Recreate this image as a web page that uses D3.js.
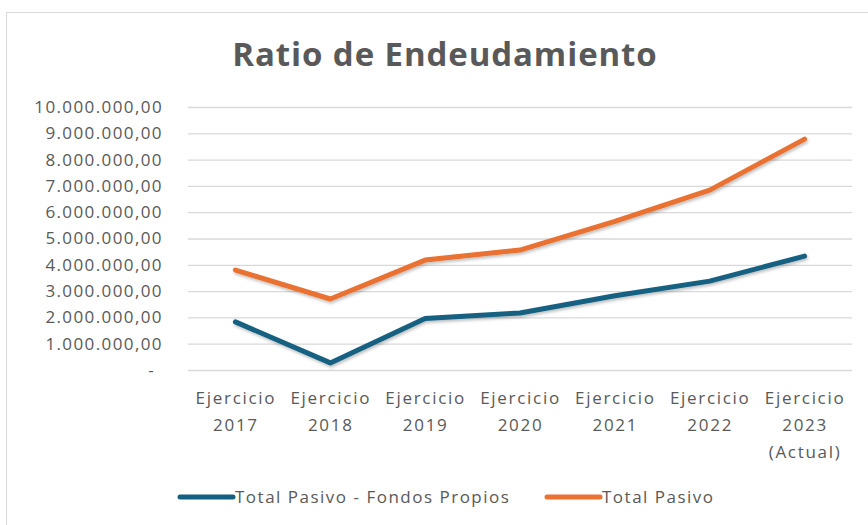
<!DOCTYPE html>
<html>
<head>
<meta charset="utf-8">
<script src="https://cdn.jsdelivr.net/npm/d3@7"></script>
<style>
  body { margin: 0; background: #fff; }
  text { font-family: "Open Sans", sans-serif; fill: #595959; }
</style>
</head>
<body>
<div id="chart"></div>
<script>
// data
var categories = ["2017", "2018", "2019", "2020", "2021", "2022", "2023"];
var catLines = [
  ["Ejercicio", "2017"],
  ["Ejercicio", "2018"],
  ["Ejercicio", "2019"],
  ["Ejercicio", "2020"],
  ["Ejercicio", "2021"],
  ["Ejercicio", "2022"],
  ["Ejercicio", "2023", "(Actual)"]
];
var pasivoMenosFP = [1830000, 270000, 1960000, 2170000, 2820000, 3380000, 4330000];
var totalPasivo = [3800000, 2700000, 4180000, 4560000, 5650000, 6840000, 8780000];
var yTicks = [0, 1000000, 2000000, 3000000, 4000000, 5000000, 6000000, 7000000, 8000000, 9000000, 10000000];
var seriesNames = ["Total Pasivo - Fondos Propios", "Total Pasivo"];
var seriesColors = ["#156082", "#E97132"];

var width = 868;
var height = 525;

var plotLeft = 188;
var plotRight = 852;
var plotTop = 107;
var plotBottom = 370;

var svg = d3
  .select("#chart")
  .append("svg")
  .attr("width", width)
  .attr("height", height);

// soft shadow under the lines
var defs = svg.append("defs");
defs.append("filter")
  .attr("id", "shadow")
  .attr("x", "-10%").attr("y", "-10%")
  .attr("width", "120%").attr("height", "130%")
  .append("feDropShadow")
  .attr("dx", 1).attr("dy", 2)
  .attr("stdDeviation", 1.5)
  .attr("flood-color", "#000")
  .attr("flood-opacity", 0.25);

// chart border
svg.append("rect")
  .attr("x", 6.5)
  .attr("y", 12.5)
  .attr("width", width)
  .attr("height", height)
  .attr("fill", "none")
  .attr("stroke", "#d9d9d9");

// title
svg.append("text")
  .attr("x", 445)
  .attr("y", 66)
  .attr("text-anchor", "middle")
  .style("font-size", "33px")
  .style("font-weight", "bold")
  .style("letter-spacing", "0.9px")
  .text("Ratio de Endeudamiento");

var xScale = d3.scalePoint()
  .domain(categories)
  .range([plotLeft, plotRight])
  .padding(0.5);

var yScale = d3.scaleLinear()
  .domain([0, 10000000])
  .range([plotBottom, plotTop]);

var es = d3.formatLocale({ decimal: ",", thousands: ".", grouping: [3], currency: ["", ""] });
var fmt = es.format(",.2f");

var yAxis = d3.axisLeft(yScale)
  .tickValues(yTicks)
  .tickSize(-(plotRight - plotLeft))
  .tickPadding(25)
  .tickFormat(function(d) { return d === 0 ? "-" : fmt(d); });

var gy = svg.append("g")
  .attr("class", "yAxis")
  .attr("transform", "translate(" + plotLeft + ",0)")
  .call(yAxis);

gy.select(".domain").remove();
gy.selectAll(".tick line").attr("stroke", "#d9d9d9").attr("stroke-width", 1.3);
gy.selectAll(".tick text")
  .style("font-size", "17px")
  .style("letter-spacing", "1.4px")
  .attr("fill", "#595959")
  .attr("dx", function(d) { return d === 0 ? -8 : 0; });

// x labels, multi-line
var xAxis = d3.axisBottom(xScale).tickSize(0).tickFormat("");
var gx = svg.append("g")
  .attr("class", "xAxis")
  .attr("transform", "translate(0," + plotBottom + ")")
  .call(xAxis);
gx.select(".domain").remove();

gx.selectAll(".tick").each(function(d, i) {
  var t = d3.select(this).append("text")
    .attr("text-anchor", "middle")
    .style("font-size", "17px")
    .style("letter-spacing", "1.7px");
  catLines[i].forEach(function(line, j) {
    t.append("tspan")
      .attr("x", 0)
      .attr("y", 34 + j * 27)
      .text(line);
  });
});

// lines
var line = d3.line()
  .x(function(d, i) { return xScale(categories[i]); })
  .y(function(d) { return yScale(d); });

[pasivoMenosFP, totalPasivo].forEach(function(values, k) {
  svg.append("path")
    .datum(values)
    .attr("d", line)
    .attr("fill", "none")
    .attr("stroke", seriesColors[k])
    .attr("stroke-width", 5)
    .attr("stroke-linecap", "round")
    .attr("stroke-linejoin", "round")
    .attr("filter", "url(#shadow)");
});

// legend
var legendX = [180, 547];
var legend = svg.append("g").attr("class", "legend");
seriesNames.forEach(function(name, k) {
  legend.append("line")
    .attr("x1", legendX[k])
    .attr("x2", legendX[k] + 53)
    .attr("y1", 497)
    .attr("y2", 497)
    .attr("stroke", seriesColors[k])
    .attr("stroke-width", 5)
    .attr("stroke-linecap", "round");
  legend.append("text")
    .attr("x", legendX[k] + 55)
    .attr("y", 503)
    .style("font-size", "17px")
    .style("letter-spacing", "1.5px")
    .text(name);
});
</script>
</body>
</html>
